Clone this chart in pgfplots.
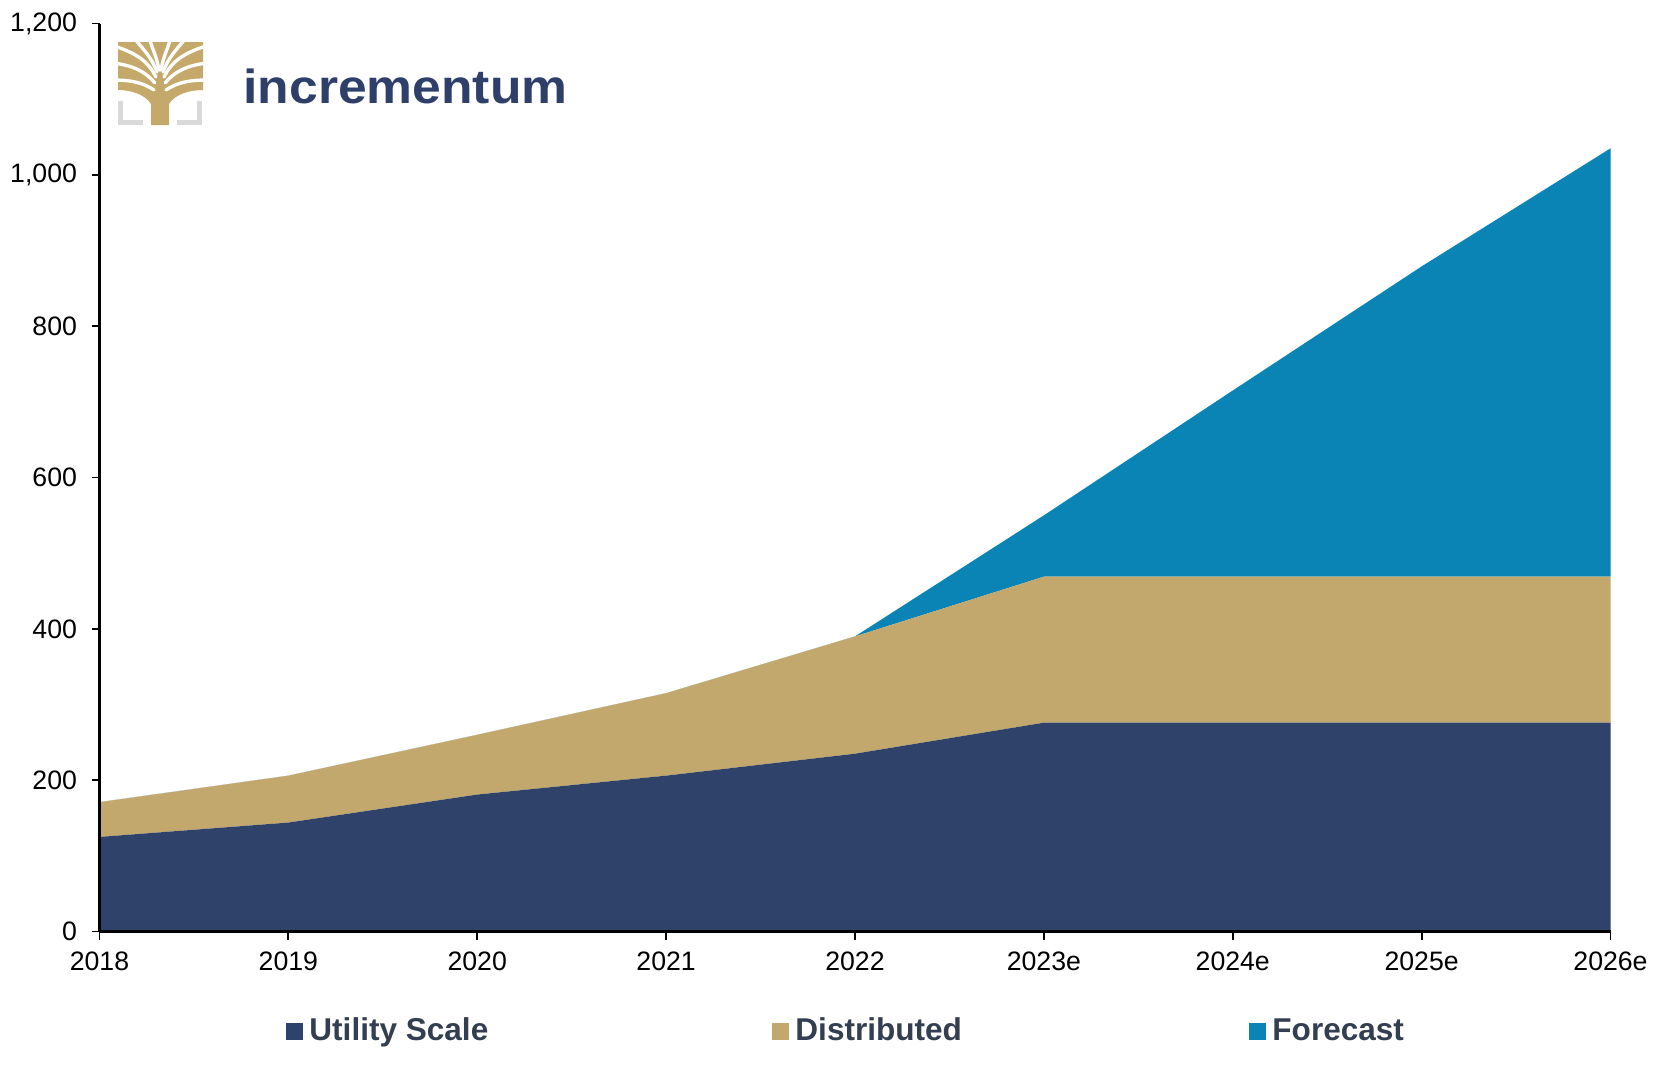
\documentclass[border=0pt]{standalone}
\usepackage{fontspec}
\setmainfont{Liberation Sans}
\usepackage{graphicx}
\usepackage{pgfplots}
\pgfplotsset{compat=1.18}
\definecolor{util}{HTML}{2F426A}
\definecolor{dist}{HTML}{C2A86C}
\definecolor{fore}{HTML}{0A84B4}
\definecolor{legtxt}{HTML}{333F50}
\definecolor{logonavy}{HTML}{2E3F6A}
\definecolor{logogold}{HTML}{C4A96A}
\definecolor{logogray}{HTML}{D9D9D9}
\begin{document}
\begin{tikzpicture}
\begin{scope}[x=0.45pt,y=-0.45pt]
\path[fill=white] (0,0) rectangle (1677,1065);
% logo
\fill[logogray] (118,101) rectangle (123,125);
\fill[logogray] (118,120) rectangle (143,125);
\fill[logogray] (197,101) rectangle (202,125);
\fill[logogray] (177,120) rectangle (202,125);
\begin{scope}
\clip (118,42) rectangle (203,125);
\fill[logogold] (118,42) -- (203,42) -- (203,90) .. controls (190,90) and (175,94) .. (169,104) -- (169,125) -- (151,125) -- (151,104) .. controls (145,94) and (130,90) .. (118,90) -- cycle;
\begin{scope}[draw=white, line width=1.5pt, line cap=round]
\draw (154,90) .. controls (142,82) and (130,80) .. (112,80);
\draw (155,83) .. controls (145,71) and (132,65) .. (112,63);
\draw (156,77) .. controls (148,61) and (136,53) .. (114,46);
\draw (157,72) .. controls (152,58) and (144,50) .. (134,38);
\draw (159,70) .. controls (157,58) and (153,50) .. (149,38);
\draw (166,90) .. controls (178,82) and (190,80) .. (208,80);
\draw (165,83) .. controls (175,71) and (188,65) .. (208,63);
\draw (164,77) .. controls (172,61) and (184,53) .. (206,46);
\draw (163,72) .. controls (168,58) and (176,50) .. (186,38);
\draw (161,70) .. controls (163,58) and (167,50) .. (171,38);
\end{scope}
\end{scope}
\node[anchor=base west, inner sep=0, text=logonavy] at (243,103) {\scalebox{1.08}[1]{\fontsize{21.5}{25}\selectfont\bfseries incrementum}};
% legend
\fill[util] (286,1023) rectangle (303,1040);
\node[anchor=base west, inner sep=0, text=legtxt] at (309,1040) {\fontsize{14.2}{17}\selectfont\bfseries Utility Scale};
\fill[dist] (772,1023) rectangle (789,1040);
\node[anchor=base west, inner sep=0, text=legtxt] at (795,1040) {\fontsize{14.2}{17}\selectfont\bfseries Distributed};
\fill[fore] (1249,1023) rectangle (1266,1040);
\node[anchor=base west, inner sep=0, text=legtxt] at (1272,1040) {\fontsize{14.2}{17}\selectfont\bfseries Forecast};
\end{scope}
\begin{axis}[
  at={(44.775pt,-419.175pt)}, anchor=south west,
  scale only axis, width=679.95pt, height=408.6pt,
  xmin=0, xmax=8, ymin=0, ymax=1200,
  axis x line=bottom, axis y line=left,
  axis line style={-, line width=1pt, black},
  axis on top,
  tick align=outside,
  ytick={0,200,...,1200},
  xtick={0,...,8},
  xticklabels={2018,2019,2020,2021,2022,2023e,2024e,2025e,2026e},
  tick style={black, line width=0.8pt},
  major tick length=3.6pt,
  ticklabel style={font=\fontsize{12}{14}\selectfont},
  xticklabel style={yshift=-2.1pt},
  yticklabel style={xshift=-3pt},
  /pgf/number format/assume math mode=true,
  /pgf/number format/1000 sep={,},
  stack plots=y,
]
\addplot[fill=util, draw=none] coordinates {(0,125)(1,144)(2,181)(3,206)(4,235)(5,276)(6,276)(7,276)(8,276)} \closedcycle;
\addplot[fill=dist, draw=none] coordinates {(0,46)(1,62)(2,79)(3,109)(4,155)(5,193)(6,193)(7,193)(8,193)} \closedcycle;
\addplot[fill=fore, draw=none] coordinates {(0,0)(1,0)(2,0)(3,0)(4,0)(5,81)(6,246)(7,410)(8,566)} \closedcycle;
\end{axis}
\end{tikzpicture}
\end{document}
